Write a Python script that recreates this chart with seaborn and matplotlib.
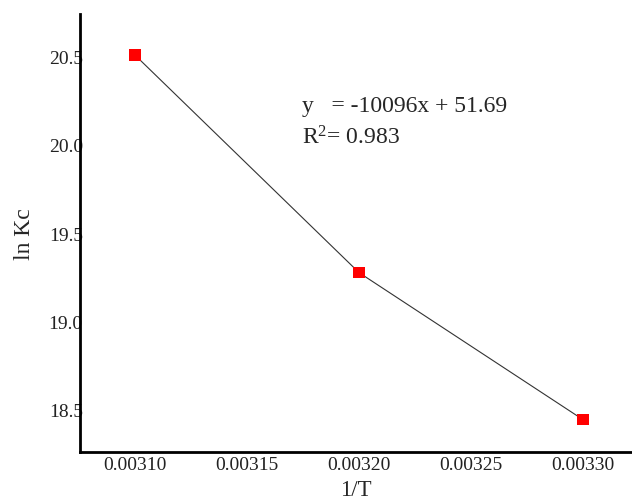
import pandas as pd
import matplotlib
matplotlib.use("Agg")
import matplotlib.pyplot as plt
import seaborn as sns

# data
inv_T = [0.00310, 0.00320, 0.00330]
ln_Kc = [20.51, 19.275, 18.44]
x_ticks = [0.00310, 0.00315, 0.00320, 0.00325, 0.00330]
x_tick_labels = ["0.00310", "0.00315", "0.00320", "0.00325", "0.00330"]
y_ticks = [18.5, 19.0, 19.5, 20.0, 20.5]
y_tick_labels = ["18.5", "19.0", "19.5", "20.0", "20.5"]

df = pd.DataFrame({"inv_T": inv_T, "ln_Kc": ln_Kc})

sns.set_style("white")
plt.rcParams["font.family"] = ["Liberation Serif", "DejaVu Serif"]
plt.rcParams["mathtext.fontset"] = "custom"
plt.rcParams["mathtext.rm"] = "Liberation Serif"
plt.rcParams["mathtext.it"] = "Liberation Serif:italic"

fig = plt.figure(figsize=(6.32, 5.02), dpi=100)
ax = fig.add_axes([0.1266, 0.0976, 0.8734, 0.8725])

sns.lineplot(data=df, x="inv_T", y="ln_Kc", color="#333333", linewidth=0.8, ax=ax)
sns.scatterplot(data=df, x="inv_T", y="ln_Kc", marker="s", s=70, color="#ff0000",
                edgecolor="none", zorder=3, ax=ax)

ax.set_xlim(0.0030754, 0.0033219)
ax.set_ylim(18.256, 20.744)
ax.set_xticks(x_ticks)
ax.set_xticklabels(x_tick_labels)
ax.set_yticks(y_ticks)
ax.set_yticklabels(y_tick_labels)
ax.tick_params(axis="both", length=0, labelsize=14, colors="#222222")
ax.tick_params(axis="y", pad=-2)
ax.tick_params(axis="x", pad=3)

for s in ["top", "right"]:
    ax.spines[s].set_visible(False)
for s in ["left", "bottom"]:
    ax.spines[s].set_color("black")
    ax.spines[s].set_linewidth(2)

ax.set_xlabel("1/T", fontsize=16.5, labelpad=4)
ax.set_ylabel("ln Kc", fontsize=17, labelpad=10)

ax.text(0.0031746, 20.227, "y   = -10096x + 51.69", fontsize=17, va="center")
ax.text(0.0031746, 20.045, "R$^{2}$= 0.983", fontsize=17, va="center")

fig.savefig("out.png", dpi=100)
